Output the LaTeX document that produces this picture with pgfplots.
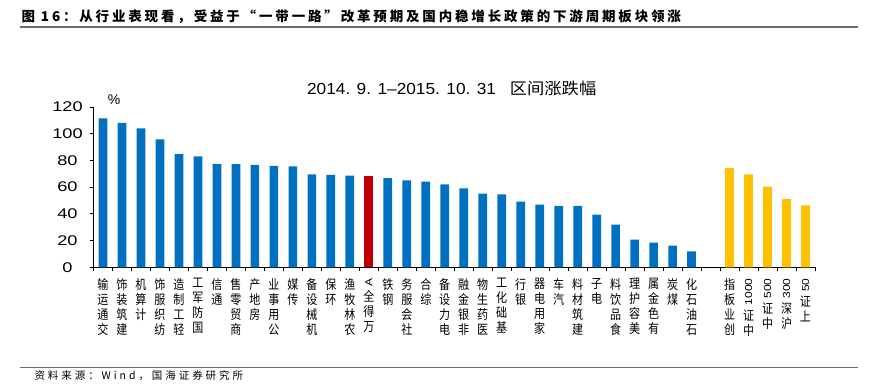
\documentclass[border=0pt]{standalone}
\usepackage{fontspec}
\usepackage{graphicx}
\usepackage{pgfplots}
\pgfplotsset{compat=1.18}
\setmainfont{Noto Sans CJK SC}
\newfontfamily\arialf{Liberation Sans}
\definecolor{barblue}{HTML}{0070C0}
\definecolor{barred}{HTML}{C00000}
\definecolor{baryel}{HTML}{FFC000}
\definecolor{rulegray}{HTML}{6E6E6E}
\ExplSyntaxOn
\NewDocumentCommand\vlab{m}{
  \tl_set:Nn \l_tmpa_tl {#1}
  \tl_reverse:N \l_tmpa_tl
  \vbox{\baselineskip=15pt
    \tl_map_inline:Nn \l_tmpa_tl {\hbox~to~14pt{\hss ##1\hss}}}
}
\ExplSyntaxOff
\newcommand\rl[1]{\rotatebox{90}{\arialf\fontsize{12}{12}\selectfont #1}}
\begin{document}
\begin{tikzpicture}
\path[use as bounding box] (0,0) rectangle (869pt,387pt);
\begin{axis}[
  at={(93.5pt,119.7pt)}, anchor=south west,
  scale only axis, width=721.5pt, height=160.3pt,
  xmin=-0.5, xmax=37.5, ymin=0, ymax=120,
  axis x line=bottom, axis y line=left,
  axis line style={-, black, line width=1pt},
  tick align=outside, major tick length=4pt,
  tick style={black, line width=0.8pt},
  ytick={0,20,...,120},
  xtick={-0.5,0.5,...,37.5},
  x tick label as interval,
  xticklabels={{\vlab{交通运输}},{\vlab{建筑装饰}},{\vlab{计算机}},{\vlab{纺织服饰}},{\vlab{轻工制造}},{\vlab{国防军工}},{\vlab{通信}},{\vlab{商贸零售}},{\vlab{房地产}},{\vlab{公用事业}},{\vlab{传媒}},{\vlab{机械设备}},{\vlab{环保}},{\vlab{农林牧渔}},{\vlab{万得全{\rl{A}}}},{\vlab{钢铁}},{\vlab{社会服务}},{\vlab{综合}},{\vlab{电力设备}},{\vlab{非银金融}},{\vlab{医药生物}},{\vlab{基础化工}},{\vlab{银行}},{\vlab{家用电器}},{\vlab{汽车}},{\vlab{建筑材料}},{\vlab{电子}},{\vlab{食品饮料}},{\vlab{美容护理}},{\vlab{有色金属}},{\vlab{煤炭}},{\vlab{石油石化}},{},{\vlab{创业板指}},{\vlab{中证{\rl{1000}}}},{\vlab{中证{\rl{500}}}},{\vlab{沪深{\rl{300}}}},{\vlab{上证{\rl{50}}}}},
  xticklabel style={anchor=north, inner sep=0pt, yshift=-7pt, font=\fontsize{13}{15}\selectfont, xscale=0.85},
  yticklabel style={anchor=center, inner sep=0pt, xshift=-22pt, font=\arialf\fontsize{14}{14}\selectfont, xscale=1.3},
  /pgf/number format/assume math mode=true,
  clip=false,
]
\addplot[ybar, bar width=8.7pt, fill=barblue, draw=none] coordinates {
(0,111.5)(1,108.2)(2,104.0)(3,95.8)(4,84.8)(5,83.1)(6,77.3)(7,77.3)(8,76.6)(9,76.0)(10,75.6)(11,69.6)(12,69.1)(13,68.6)(15,66.8)(16,65.1)(17,64.1)(18,62.1)(19,59.1)(20,55.1)(21,54.6)(22,49.1)(23,46.9)(24,45.9)(25,45.9)(26,39.4)(27,31.9)(28,20.7)(29,18.4)(30,16.2)(31,12.0)};
\addplot[ybar, bar width=8.7pt, fill=barred, draw=none] coordinates {(14,68.6)};
\addplot[ybar, bar width=8.7pt, fill=baryel, draw=none] coordinates {(33,74.3)(34,69.6)(35,60.4)(36,51.1)(37,46.4)};
\end{axis}
\node[anchor=base west] at (18pt,365.5pt) {\bfseries\fontsize{13.5}{15}\selectfont\addfontfeatures{LetterSpace=21}图 16：从行业表现看，受益于“一带一路”改革预期及国内稳增长政策的下游周期板块领涨};
\draw[rulegray, line width=1.5pt] (20pt,360pt) -- (858pt,360pt);
\node[anchor=base, xscale=1.08] at (451.7pt,292pt) {\arialf\fontsize{16}{16}\selectfont 2014. 9. 1–2015. 10. 31\hspace{0.8em}{\rmfamily 区间涨跌幅}};
\node[anchor=center] at (114pt,287pt) {\arialf\fontsize{14}{14}\selectfont\%};
\draw[rulegray, line width=1.5pt] (20pt,19.7pt) -- (858pt,19.7pt);
\node[anchor=base west] at (31pt,7pt) {\fontsize{10.5}{12}\selectfont\addfontfeatures{LetterSpace=28}资料来源：Wind，国海证券研究所};
\end{tikzpicture}
\end{document}
